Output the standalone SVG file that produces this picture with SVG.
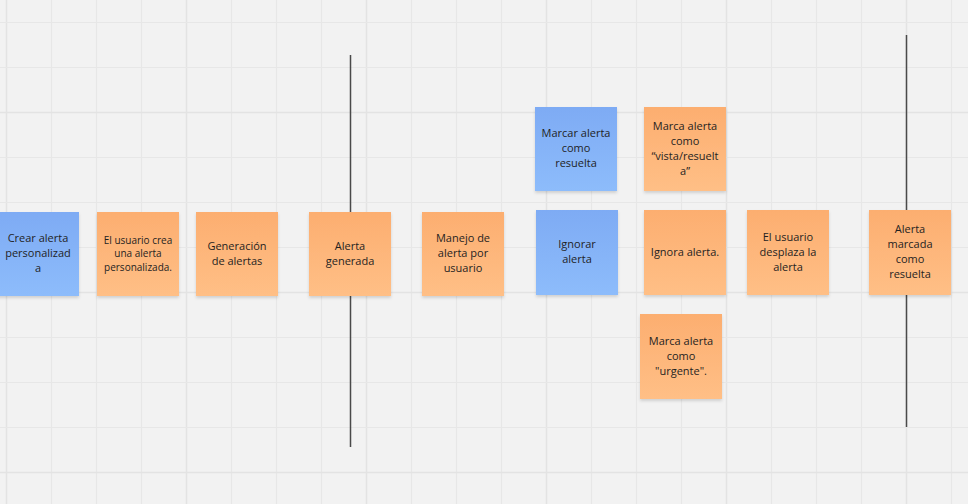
<svg xmlns="http://www.w3.org/2000/svg" width="968" height="504" viewBox="0 0 968 504">
  <style>
    .grid { stroke: #e7e7e7; stroke-width: 1.2; }
    .grid-major { stroke: #e3e3e3; stroke-width: 1.6; }
    .divider { stroke: #4a4a4a; stroke-width: 1.5; }
    .orange { fill: url(#gOrange); filter: url(#shadow); }
    .blue { fill: url(#gBlue); filter: url(#shadow); }
    text { font-family: "Open Sans", "Noto Sans", "Liberation Sans", sans-serif; font-size: 11px; fill: #1f1f1f; text-anchor: middle; }
    text.small { font-size: 10px; }
  </style>
  <defs>
    <linearGradient id="gOrange" x1="0" y1="0" x2="0" y2="1">
      <stop offset="0" stop-color="#fcae70"/>
      <stop offset="1" stop-color="#ffbf86"/>
    </linearGradient>
    <linearGradient id="gBlue" x1="0" y1="0" x2="0" y2="1">
      <stop offset="0" stop-color="#7eabf4"/>
      <stop offset="1" stop-color="#8dbcfb"/>
    </linearGradient>
    <filter id="shadow" x="-10%" y="-10%" width="120%" height="125%">
      <feDropShadow dx="0" dy="2" stdDeviation="1.6" flood-color="#000" flood-opacity="0.14"/>
    </filter>
  </defs>

  <!-- canvas -->
  <rect x="0" y="0" width="968" height="504" fill="#f2f2f2"/>

  <!-- background grid, 45px cells -->
  <g id="grid">
    <path class="grid" d="M51.5 0V504M96.5 0V504M141.5 0V504M231.5 0V504M276.5 0V504M321.5 0V504M411.5 0V504M456.5 0V504M501.5 0V504M591.5 0V504M636.5 0V504M681.5 0V504M771.5 0V504M816.5 0V504M861.5 0V504M951.5 0V504"/>
    <path class="grid-major" d="M6.5 0V504M186.5 0V504M366.5 0V504M546.5 0V504M726.5 0V504M906.5 0V504"/>
    <path class="grid" d="M0 22.5H968M0 67.5H968M0 157.5H968M0 202.5H968M0 247.5H968M0 337.5H968M0 382.5H968M0 427.5H968"/>
    <path class="grid-major" d="M0 112.5H968M0 292.5H968M0 472.5H968"/>
  </g>

  <!-- phase dividers -->
  <g id="connectors">
    <line class="divider" x1="350.5" y1="55" x2="350.5" y2="447"/>
    <line class="divider" x1="906.5" y1="35" x2="906.5" y2="427" stroke="#666"/>
  </g>

  <g id="crear-alerta">
    <rect class="blue" x="-3" y="212" width="82" height="84"/>
    <text x="38" y="242">Crear alerta</text>
    <text x="38" y="257">personalizad</text>
    <text x="38" y="272">a</text>
  </g>

  <g id="usuario-crea">
    <rect class="orange" x="97" y="212" width="82" height="84"/>
    <text class="small" x="138" y="243.5">El usuario crea</text>
    <text class="small" x="138" y="257">una alerta</text>
    <text class="small" x="138" y="270.5">personalizada.</text>
  </g>

  <g id="generacion">
    <rect class="orange" x="196" y="212" width="82" height="84"/>
    <text x="237" y="250">Generación</text>
    <text x="237" y="265">de alertas</text>
  </g>

  <g id="alerta-generada">
    <rect class="orange" x="309" y="212" width="82" height="84"/>
    <text x="350" y="250">Alerta</text>
    <text x="350" y="265">generada</text>
  </g>

  <g id="manejo">
    <rect class="orange" x="422" y="212" width="82" height="84"/>
    <text x="463" y="242">Manejo de</text>
    <text x="463" y="257">alerta por</text>
    <text x="463" y="272">usuario</text>
  </g>

  <g id="marcar-resuelta">
    <rect class="blue" x="535" y="107" width="82" height="84"/>
    <text x="576" y="137">Marcar alerta</text>
    <text x="576" y="152">como</text>
    <text x="576" y="167">resuelta</text>
  </g>

  <g id="marca-vista">
    <rect class="orange" x="644" y="107" width="82" height="84"/>
    <text x="685" y="129.5">Marca alerta</text>
    <text x="685" y="144.5">como</text>
    <text x="685" y="159.5">“vista/resuelt</text>
    <text x="685" y="174.5">a”</text>
  </g>

  <g id="ignorar">
    <rect class="blue" x="536" y="210" width="82" height="85"/>
    <text x="577" y="248">Ignorar</text>
    <text x="577" y="263">alerta</text>
  </g>

  <g id="ignora">
    <rect class="orange" x="644" y="210" width="82" height="85"/>
    <text x="685" y="256">Ignora alerta.</text>
  </g>

  <g id="desplaza">
    <rect class="orange" x="747" y="210" width="82" height="85"/>
    <text x="788" y="240.5">El usuario</text>
    <text x="788" y="255.5">desplaza la</text>
    <text x="788" y="270.5">alerta</text>
  </g>

  <g id="alerta-marcada">
    <rect class="orange" x="869" y="210" width="82" height="85"/>
    <text x="910" y="233">Alerta</text>
    <text x="910" y="248">marcada</text>
    <text x="910" y="263">como</text>
    <text x="910" y="278">resuelta</text>
  </g>

  <g id="marca-urgente">
    <rect class="orange" x="640" y="314" width="82" height="85"/>
    <text x="681" y="345">Marca alerta</text>
    <text x="681" y="360">como</text>
    <text x="681" y="375">"urgente".</text>
  </g>
</svg>
